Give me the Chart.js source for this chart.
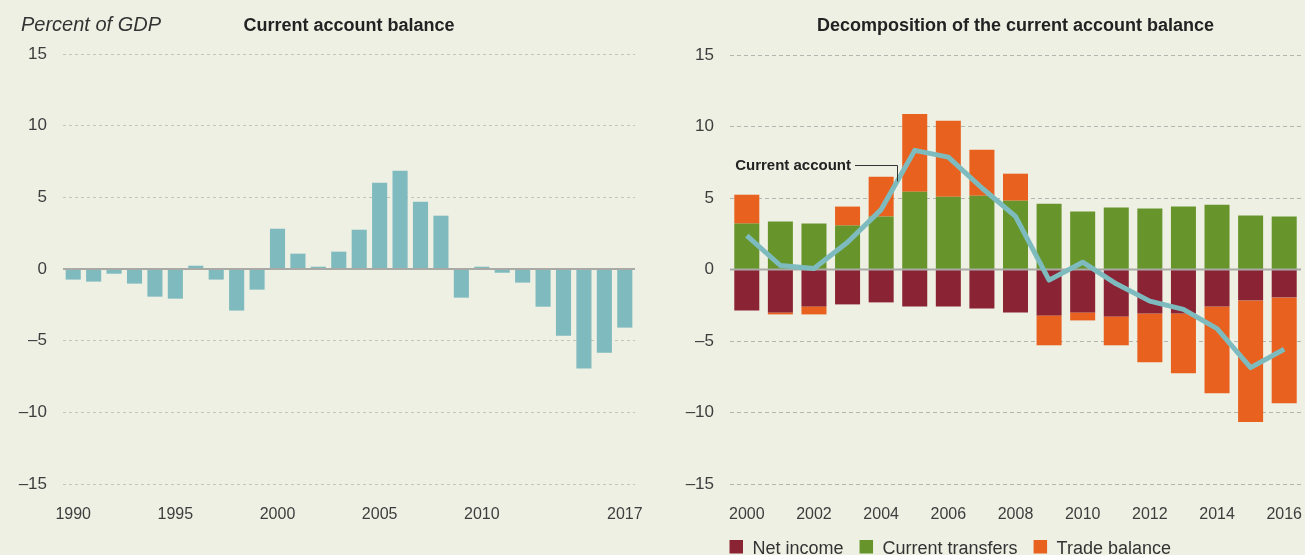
<!DOCTYPE html>
<html><head><meta charset="utf-8">
<script src="https://cdn.jsdelivr.net/npm/chart.js@4.4.1/dist/chart.umd.min.js"></script>
<style>
html,body{margin:0;padding:0;background:#EFF0E4;}
body{width:1305px;height:555px;position:relative;overflow:hidden;}
canvas{position:absolute;top:0;}
#c1{left:0}#c2{left:655px}
</style></head><body>
<canvas id="c1" width="655" height="555"></canvas>
<canvas id="c2" width="650" height="555"></canvas>
<script>
// ---------- data ----------
const yearsLeft = ['1990','1991','1992','1993','1994','1995','1996','1997','1998','1999','2000','2001','2002','2003','2004','2005','2006','2007','2008','2009','2010','2011','2012','2013','2014','2015','2016','2017'];
const balanceLeft = [-0.74,-0.88,-0.33,-1.02,-1.93,-2.07,0.23,-0.74,-2.9,-1.44,2.81,1.07,0.16,1.21,2.74,6.02,6.86,4.7,3.72,-2.0,0.16,-0.26,-0.95,-2.63,-4.65,-6.95,-5.84,-4.09];
const leftTickLabels = ['1990','1995','2000','2005','2010','2017'];

const yearsRight = ['2000','2001','2002','2003','2004','2005','2006','2007','2008','2009','2010','2011','2012','2013','2014','2015','2016'];
const netIncome = [-2.86,-3.0,-2.58,-2.44,-2.3,-2.58,-2.58,-2.72,-3.0,-3.21,-3.0,-3.28,-3.07,-3.07,-2.58,-2.16,-1.95];
const currentTransfers = [3.21,3.35,3.21,3.07,3.7,5.44,5.09,5.16,4.81,4.6,4.05,4.33,4.26,4.4,4.53,3.77,3.7];
const tradeBalance = [2.02,-0.14,-0.56,1.33,2.79,5.44,5.31,3.21,1.89,-2.09,-0.56,-2.02,-3.42,-4.19,-6.07,-8.51,-7.4];
const currentAccount = [2.37,0.28,0.07,1.91,4.19,8.33,7.86,5.7,3.72,-0.74,0.51,-1.0,-2.21,-2.79,-4.14,-6.86,-5.58];
const rightTickLabels = ['2000','2002','2004','2006','2008','2010','2012','2014','2016'];

const yTicks = {min:-15, max:15, step:5};

// ---------- styling ----------
const FONT = '"Liberation Sans", Arial, Helvetica, sans-serif';
const TICK_COLOR = '#3d3d3d';
Chart.defaults.font.family = FONT;
Chart.defaults.color = TICK_COLOR;

function fmtY(v){ return v < 0 ? '\u2013' + (-v) : String(v); }

function drawZero(chart){
  const {ctx, chartArea, scales} = chart;
  const y = scales.y.getPixelForValue(0);
  ctx.save();
  ctx.strokeStyle = '#a9a9a6';
  ctx.lineWidth = 2;
  ctx.beginPath();
  ctx.moveTo(chartArea.left, y);
  ctx.lineTo(chartArea.right, y);
  ctx.stroke();
  ctx.restore();
}

const decor = {
  id: 'decor',
  beforeDatasetDraw(chart, args){
    if (chart.data.datasets[args.index].type === 'line') drawZero(chart);
  },
  afterDatasetsDraw(chart){
    if (!chart.data.datasets.some(d => d.type === 'line')) drawZero(chart);
  },
  afterDraw(chart, args, opts){
    const {ctx, chartArea, scales} = chart;
    const cx = (chartArea.left + chartArea.right) / 2;
    ctx.save();
    ctx.textBaseline = 'alphabetic';
    if (opts.unit) {
      ctx.font = 'italic 20px ' + FONT;
      ctx.fillStyle = '#333';
      ctx.textAlign = 'left';
      ctx.fillText(opts.unit, 21, 31);
    }
    ctx.fillStyle = '#222';
    ctx.font = 'bold 18px ' + FONT;
    ctx.textAlign = 'center';
    ctx.fillText(opts.title, cx, 31);

    if (opts.legend) {
      let x = chartArea.left - 0.5;
      const box = 13.5;
      ctx.font = '18px ' + FONT;
      ctx.textAlign = 'left';
      chart.data.datasets.forEach(ds => {
        if (ds.type === 'line') return;
        ctx.fillStyle = ds.backgroundColor;
        ctx.fillRect(x, 540, box, box);
        const tx = x + box + 9.5;
        ctx.fillStyle = '#333';
        ctx.fillText(ds.label, tx, 553.5);
        x = tx + ctx.measureText(ds.label).width + 16;
      });
    }

    if (opts.note) {
      const n = opts.note;
      const px = Math.round(scales.x.getPixelForValue(n.xIndex));
      const pyTop = Math.round(scales.y.getPixelForValue(n.yTop));
      const pyBot = scales.y.getPixelForValue(n.yBottom);
      ctx.strokeStyle = '#333';
      ctx.lineWidth = 1;
      ctx.beginPath();
      ctx.moveTo(px - 42, pyTop + 0.5);
      ctx.lineTo(px + 0.5, pyTop + 0.5);
      ctx.lineTo(px + 0.5, pyBot);
      ctx.stroke();
      ctx.font = 'bold 15px ' + FONT;
      ctx.fillStyle = '#222';
      ctx.textAlign = 'right';
      ctx.fillText(n.text, px - 46, pyTop + 5);
    }
    ctx.restore();
  }
};

function yScale(dash, gridColor, width){
  return {
    min: yTicks.min, max: yTicks.max, stacked: true,
    afterFit: s => { s.width = width; },
    ticks: { stepSize: yTicks.step, padding: 16, color: TICK_COLOR, font: {size: 17}, callback: fmtY },
    grid: { drawTicks: false, color: c => c.tick.value === 0 ? 'rgba(0,0,0,0)' : gridColor, lineWidth: 1 },
    border: { display: false, dash: dash }
  };
}
function xScale(labelsShown){
  return {
    stacked: true,
    afterFit: s => { s.height = 71; s.paddingLeft = 0; s.paddingRight = 0; },
    grid: { display: false, drawTicks: false },
    border: { display: false },
    ticks: {
      autoSkip: false, maxRotation: 0, padding: 21, color: TICK_COLOR, font: {size: 16},
      callback: function(v){ const l = this.getLabelForValue(v); return labelsShown.includes(l) ? l : ''; }
    }
  };
}

new Chart(document.getElementById('c1'), {
  type: 'bar',
  data: {
    labels: yearsLeft,
    datasets: [{ label: 'Current account balance', data: balanceLeft, backgroundColor: '#7FBBBE',
      barPercentage: 0.74, categoryPercentage: 1 }]
  },
  options: {
    responsive: false, animation: false, devicePixelRatio: 1,
    layout: { padding: { left: 0, right: 20, top: 54, bottom: 0 } },
    scales: { x: xScale(leftTickLabels), y: yScale([3,3], '#c4c4bf', 63) },
    plugins: {
      legend: { display: false }, tooltip: { enabled: false },
      decor: { unit: 'Percent of GDP', title: 'Current account balance' }
    }
  },
  plugins: [decor]
});

new Chart(document.getElementById('c2'), {
  type: 'bar',
  data: {
    labels: yearsRight,
    datasets: [
      { label: 'Net income', data: netIncome, backgroundColor: '#8A2333', barPercentage: 0.745, categoryPercentage: 1, order: 1 },
      { label: 'Current transfers', data: currentTransfers, backgroundColor: '#67952C', barPercentage: 0.745, categoryPercentage: 1, order: 1 },
      { label: 'Trade balance', data: tradeBalance, backgroundColor: '#E8611F', barPercentage: 0.745, categoryPercentage: 1, order: 1 },
      { type: 'line', label: 'Current account', data: currentAccount, stack: 'line', order: 0,
        borderColor: '#7DBBBF', borderWidth: 5, pointRadius: 0, tension: 0, fill: false,
        borderJoinStyle: 'round', borderCapStyle: 'butt' }
    ]
  },
  options: {
    responsive: false, animation: false, devicePixelRatio: 1,
    layout: { padding: { left: 0, right: 4, top: 55, bottom: 0 } },
    scales: { x: xScale(rightTickLabels), y: yScale([4,3], '#b4b4b0', 75) },
    plugins: {
      legend: { display: false }, tooltip: { enabled: false },
      decor: { title: 'Decomposition of the current account balance', legend: true,
        note: { text: 'Current account', xIndex: 4.47, yTop: 7.33, yBottom: 6.16 } }
    }
  },
  plugins: [decor]
});
</script>
</body></html>
